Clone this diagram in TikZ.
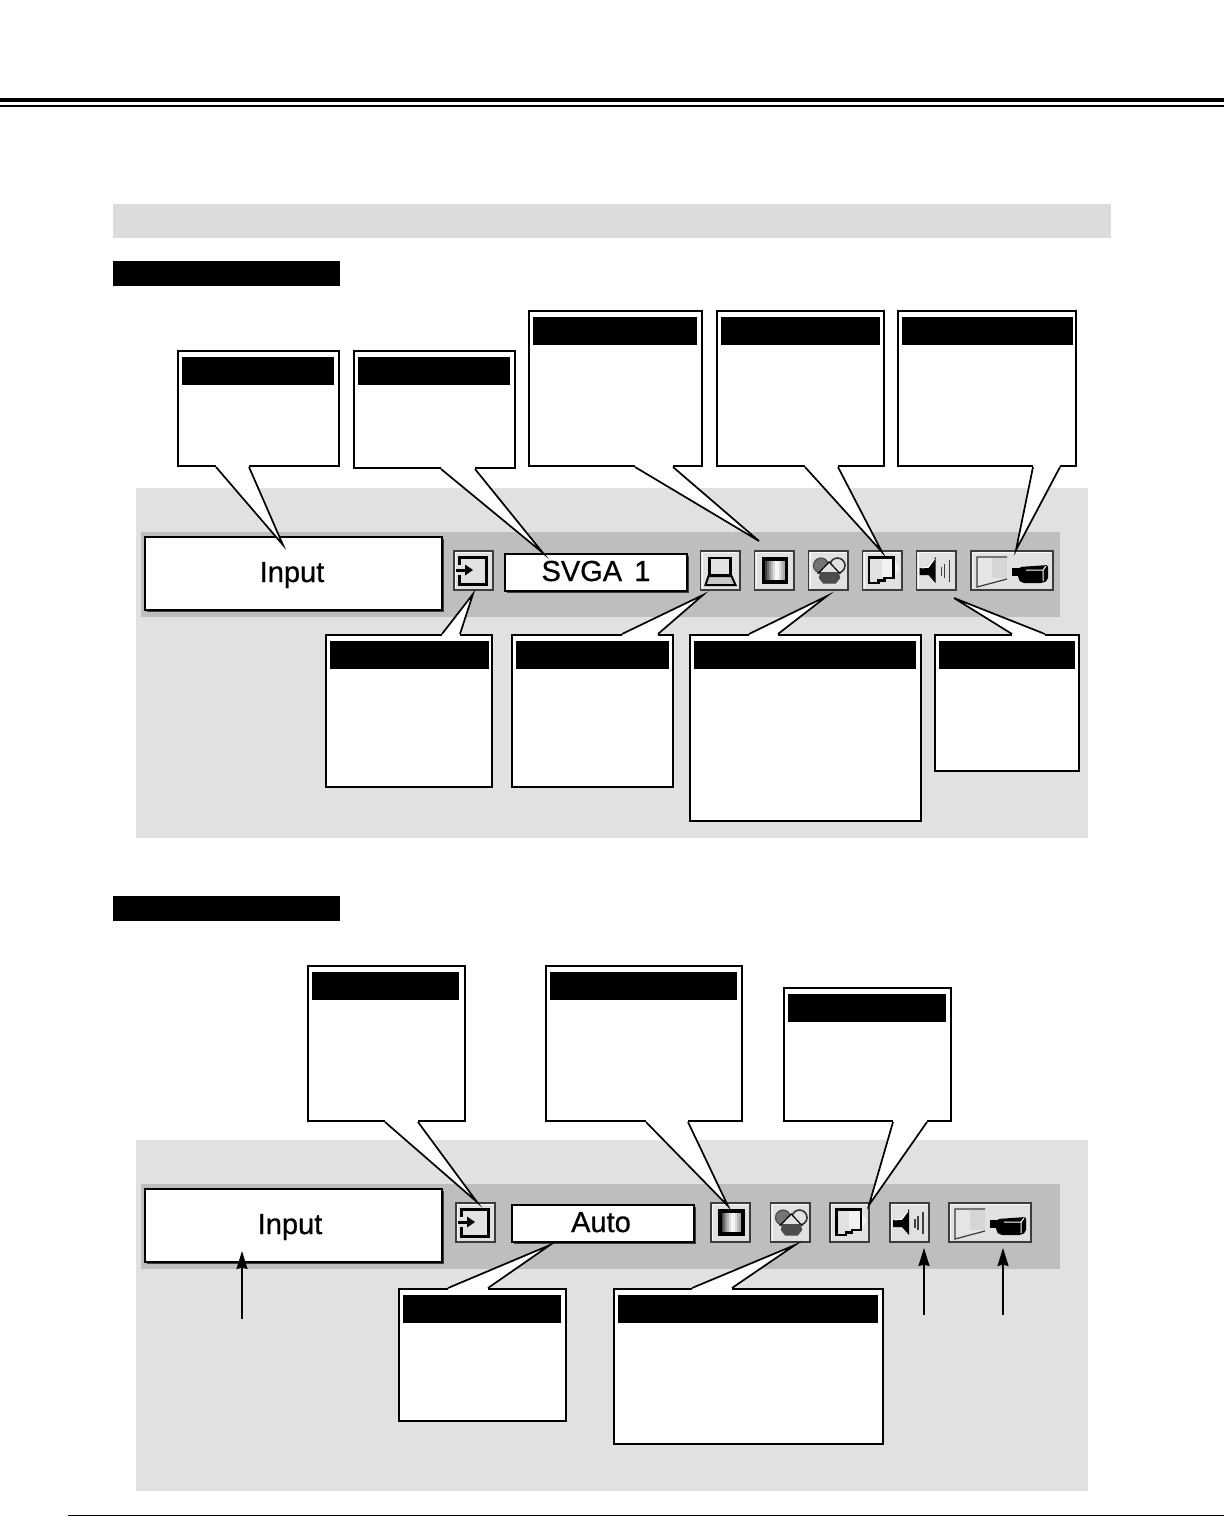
\documentclass[tikz,border=0pt]{standalone}
\usepackage{fontspec}
\setmainfont{Liberation Sans}
\newfontfamily\osdfont[FakeBold=0.7]{Liberation Sans}
\usetikzlibrary{arrows.meta,calc,shadows}
\definecolor{osdPanel}{HTML}{E1E1E1}
\definecolor{osdStrip}{HTML}{BEBEBE}
\definecolor{osdHead}{HTML}{DCDCDC}
\definecolor{osdEdge}{HTML}{3C3C3C}
\tikzset{
  osdrule/.style={fill=black, draw=none},
  osdpanel/.style={fill=osdPanel, draw=none},
  osdstrip/.style={fill=osdStrip, draw=none},
  osdhead/.style={fill=osdHead, draw=none},
  osdblack/.style={fill=black, draw=none},
  osdfield/.style={fill=white, draw=black, line width=.95pt, inner sep=0pt,
    drop shadow={shadow xshift=1.1pt,shadow yshift=-1.1pt,
      fill=osdEdge,opacity=1}},
  osdtext/.style={anchor=base, inner sep=0pt,
    font=\osdfont\fontsize{14.5}{16}\selectfont},
  osdbtn/.style={fill=osdPanel, draw=osdEdge, line width=.85pt, inner sep=0pt},
  callbox/.style={fill=white, draw=black, line width=.85pt, inner sep=0pt},
  calltitle/.style={fill=black, draw=none, inner sep=0pt},
  callline/.style={draw=black, line width=.85pt, line join=miter},
  osdarrow/.style={-{Stealth[length=9pt,width=5.5pt,inset=.7pt]}, draw=black,
    line width=.85pt},
}
% plain rectangle given by corners, as a named node
\newcommand{\osdrect}[4]{%
  \node[#2,anchor=north west,inner sep=0pt,
    minimum width=#4*.5pt,minimum height=\osdh*.5pt] (#1) at (#3) {};%
}
\newcommand{\osdh}{0}
% box with black title bar: name, corner, w, h, bar width
\newcommand{\callout}[5]{%
  \node[callbox,anchor=north west,minimum width=(#3-1.2)*.5pt,
    minimum height=(#4-.7)*.5pt] (#1) at (#2) {};%
  \node[calltitle,anchor=north west,minimum width=#5*.5pt,minimum height=14pt]
    (#1T) at ($(#1.north west)+(5,7)$) {};%
}
% wedge from two points on one edge of a box out to a tip
\newcommand{\callwedge}[5]{%
  \fill[white] ($(#1.#2 west)+(#3,-2)$) rectangle ($(#1.#2 west)+(#4,2)$);%
  \path[fill=white] ($(#1.#2 west)+(#3,0)$) -- (#5) -- ($(#1.#2 west)+(#4,0)$) -- cycle;%
  \draw[callline] ($(#1.#2 west)+(#3,0)$) -- (#5) -- ($(#1.#2 west)+(#4,0)$);%
}
% icon button: name, corner, width, drawing
\newcommand{\osdbutton}[4]{%
  \node[osdbtn,anchor=north west,minimum width=(#3-1.7)*.5pt,
    minimum height=39.3*.5pt] (#1) at (#2) {};%
  \begin{scope}[shift={(#1.north west)}]
    \draw[white!80!osdPanel,line width=.5pt] (2.5,38.5)--(2.5,2.5)--({#3-2.5},2.5);
    #4
  \end{scope}%
}
\newcommand{\iconinput}{%
  \draw[black,line width=1.5pt] (6,15)--(6,7)--(33,7)--(33,34)--(6,34)--(6,25);
  \draw[black,line width=1.5pt] (3,20)--(14,20);
  \fill[black] (12,14.5)--(20,20)--(12,25.5)--cycle;
}
\newcommand{\iconlaptop}{%
  \draw[black,line width=1.4pt] (10,8) rectangle (31,25);
  \draw[black,line width=1pt,fill=black!22] (9,26)--(32,26)--(36,35)--(6,35)--cycle;
}
\newcommand{\iconframe}{%
  \foreach \xbar/\ggray in {11/75,13/60,15/42,17/28,19/14,21/4,23/4,25/14,27/26,29/34,31/38}
    \fill[black!\ggray] (\xbar,9) rectangle +(2.2,23);
  \draw[black,line width=1.6pt] (10,9) rectangle (33,32);
}
\newcommand{\iconcolors}{%
  \draw[black!70,line width=.6pt,fill=black!55] (13.5,15.5) circle (7.5);
  \draw[black!80,line width=.8pt] (30,15.5) circle (7.5);
  \draw[black,line width=.6pt,fill=osdPanel] (21.7,12)--(11,23)--(32,23)--cycle;
  \draw[black!70,line width=.6pt,fill=black!70] (13,23)--(31,23)--(32,28)--(28,33)--(16,33)--(12,28)--cycle;
}
\newcommand{\iconpage}{%
  \fill[black!5] (20,9)--(32,9)--(38,19)--(32,27)--(20,27)--cycle;
  \draw[black,line width=1.2pt] (7.5,7.5)--(32,7.5)--(32,28)--(23,28)--(23,30.5)--(17,30.5)--(17,33)--(7.5,33)--cycle;
}
\newcommand{\iconspeaker}{%
  \fill[black] (4,18)--(13,18)--(20,7)--(20,33)--(13,25)--(4,25)--cycle;
  \draw[white,line width=.5pt] (6,18)--(13,17)--(19,9);
  \draw[black!75,line width=.6pt] (26,17)--(26,26) (29,14)--(29,28);
  \draw[black!75,line width=.8pt] (34,10)--(34,32);
}
\newcommand{\iconwide}{%
  \fill[white!90!black] (7,7)--(37,7)--(37,29)--(7,37)--cycle;
  \fill[black!16] (22,8) rectangle (37,28);
  \draw[osdEdge,line width=.6pt] (37,7)--(7,7)--(7,37)--(37,29);
  \fill[black,rounded corners=1pt] (49,17)--(78,15)--(78,30)--(73,33)--(52,33)--(48,29)--cycle;
  \fill[black] (42,18) rectangle (50,26);
  \draw[white,line width=.5pt] (56,20)--(73,20)--(76,16) (73,20)--(73,31);
}
\begin{document}
\begin{tikzpicture}[x=.5pt,y=-.5pt]
  \path[use as bounding box] (0,0) rectangle (1224,1517);

  % page rules and the heading bars
  \fill[osdrule] (0,98) rectangle (1224,102);
  \fill[osdrule] (0,105) rectangle (1224,106.5);
  \fill[osdrule] (68,1514.5) rectangle (1224,1516);
  \renewcommand{\osdh}{34}\osdrect{headBar}{osdhead}{113,204}{998}
  \renewcommand{\osdh}{25}\osdrect{titleA}{osdblack}{113,261}{227}
  \renewcommand{\osdh}{25}\osdrect{titleB}{osdblack}{113,896}{227}

  % first menu bar
  \renewcommand{\osdh}{350}\osdrect{panelA}{osdpanel}{136,488}{952}
  \renewcommand{\osdh}{85}\osdrect{stripA}{osdstrip}{141,532}{919}
  \node[osdfield,anchor=north west,minimum width=148.5pt,minimum height=36.5pt]
    (inputA) at (144,536) {};
  \node[osdtext] (labelInA) at (292,582) {Input};
  \osdbutton{btnInA}{453,550}{41}{\iconinput}
  \node[osdfield,anchor=north west,minimum width=91pt,minimum height=18.5pt]
    (fieldA) at (504,553) {};
  \node[osdtext] (labelFieldA) at (596,581) {SVGA\hspace{.42em}1};
  \osdbutton{btnLapA}{699.5,550}{41}{\iconlaptop}
  \osdbutton{btnFrameA}{753.5,550}{41}{\iconframe}
  \osdbutton{btnColorA}{807.5,550}{41}{\iconcolors}
  \osdbutton{btnPageA}{861.5,550}{41}{\iconpage}
  \osdbutton{btnSpkA}{915.5,550}{41}{\iconspeaker}
  \osdbutton{btnWideA}{970,550}{84}{\iconwide}

  % second menu bar
  \renewcommand{\osdh}{351}\osdrect{panelB}{osdpanel}{136,1140}{952}
  \renewcommand{\osdh}{85}\osdrect{stripB}{osdstrip}{141,1184}{919}
  \node[osdfield,anchor=north west,minimum width=148.5pt,minimum height=36.5pt]
    (inputB) at (144,1188) {};
  \node[osdtext] (labelInB) at (290,1234) {Input};
  \osdbutton{btnInB}{455,1202}{41}{\iconinput}
  \node[osdfield,anchor=north west,minimum width=91pt,minimum height=18.5pt]
    (fieldB) at (511,1204) {};
  \node[osdtext] (labelFieldB) at (601,1232) {Auto};
  \osdbutton{btnFrameB}{710,1202}{41}{\iconframe}
  \osdbutton{btnColorB}{769.5,1202}{41}{\iconcolors}
  \osdbutton{btnPageB}{829,1202}{41}{\iconpage}
  \osdbutton{btnSpkB}{889,1202}{41}{\iconspeaker}
  \osdbutton{btnWideB}{948,1202}{84}{\iconwide}

  % callouts above the first bar
  \callout{callInput}{177,350}{162}{116}{152}
  \callout{callField}{353,350}{162}{118}{152}
  \callout{callFrame}{528,310}{174}{156}{164}
  \callout{callPage}{716,310}{168}{156}{159}
  \callout{callWide}{897,310}{179}{156}{171}
  \coordinate (tipInput) at (283,545);
  \coordinate (tipField) at (543,553);
  \coordinate (tipFrame) at (759,541);
  \coordinate (tipPage) at (882,552);
  \coordinate (tipWide) at (1016,550);
  \callwedge{callInput}{south}{39}{72}{tipInput}
  \callwedge{callField}{south}{88}{122}{tipField}
  \callwedge{callFrame}{south}{107}{145}{tipFrame}
  \callwedge{callPage}{south}{89}{122}{tipPage}
  \callwedge{callWide}{south}{136}{163}{tipWide}

  % callouts below the first bar
  \callout{callSelect}{325,634}{167}{153}{159}
  \callout{callLaptop}{511,634}{162}{153}{153}
  \callout{callColor}{689,634}{232}{187}{222}
  \callout{callSound}{934,634}{145}{137}{136}
  \coordinate (tipSelect) at (473,594);
  \coordinate (tipLaptop) at (703,595);
  \coordinate (tipColor) at (827,596);
  \coordinate (tipSound) at (954,598);
  \callwedge{callSelect}{north}{117}{135}{tipSelect}
  \callwedge{callLaptop}{north}{111}{147}{tipLaptop}
  \callwedge{callColor}{north}{60}{89}{tipColor}
  \callwedge{callSound}{north}{78}{111}{tipSound}

  % callouts of the second bar
  \callout{callInB}{307,965}{158}{156}{147}
  \callout{callFrameB}{545,965}{197}{156}{187}
  \callout{callPageB}{783,987}{168}{134}{158}
  \callout{callAuto}{398,1288}{168}{133}{158}
  \callout{callColorB}{613,1288}{270}{156}{260}
  \coordinate (tipInB) at (477,1202);
  \coordinate (tipFrameB) at (728,1206);
  \coordinate (tipPageB) at (869,1205);
  \coordinate (tipAuto) at (550,1245);
  \coordinate (tipColorB) at (795,1245);
  \callwedge{callInB}{south}{78}{111}{tipInB}
  \callwedge{callFrameB}{south}{101}{143}{tipFrameB}
  \callwedge{callPageB}{south}{110}{144}{tipPageB}
  \callwedge{callAuto}{north}{50}{90}{tipAuto}
  \callwedge{callColorB}{north}{79}{119}{tipColorB}

  % plain arrows
  \coordinate (footInput) at (242,1319);
  \coordinate (headInput) at (242,1251);
  \coordinate (footSpk) at (924,1315);
  \coordinate (headSpk) at (924,1248);
  \coordinate (footWide) at (1003,1315);
  \coordinate (headWide) at (1003,1248);
  \draw[osdarrow] (footInput) -- (headInput);
  \draw[osdarrow] (footSpk) -- (headSpk);
  \draw[osdarrow] (footWide) -- (headWide);
\end{tikzpicture}
\end{document}
